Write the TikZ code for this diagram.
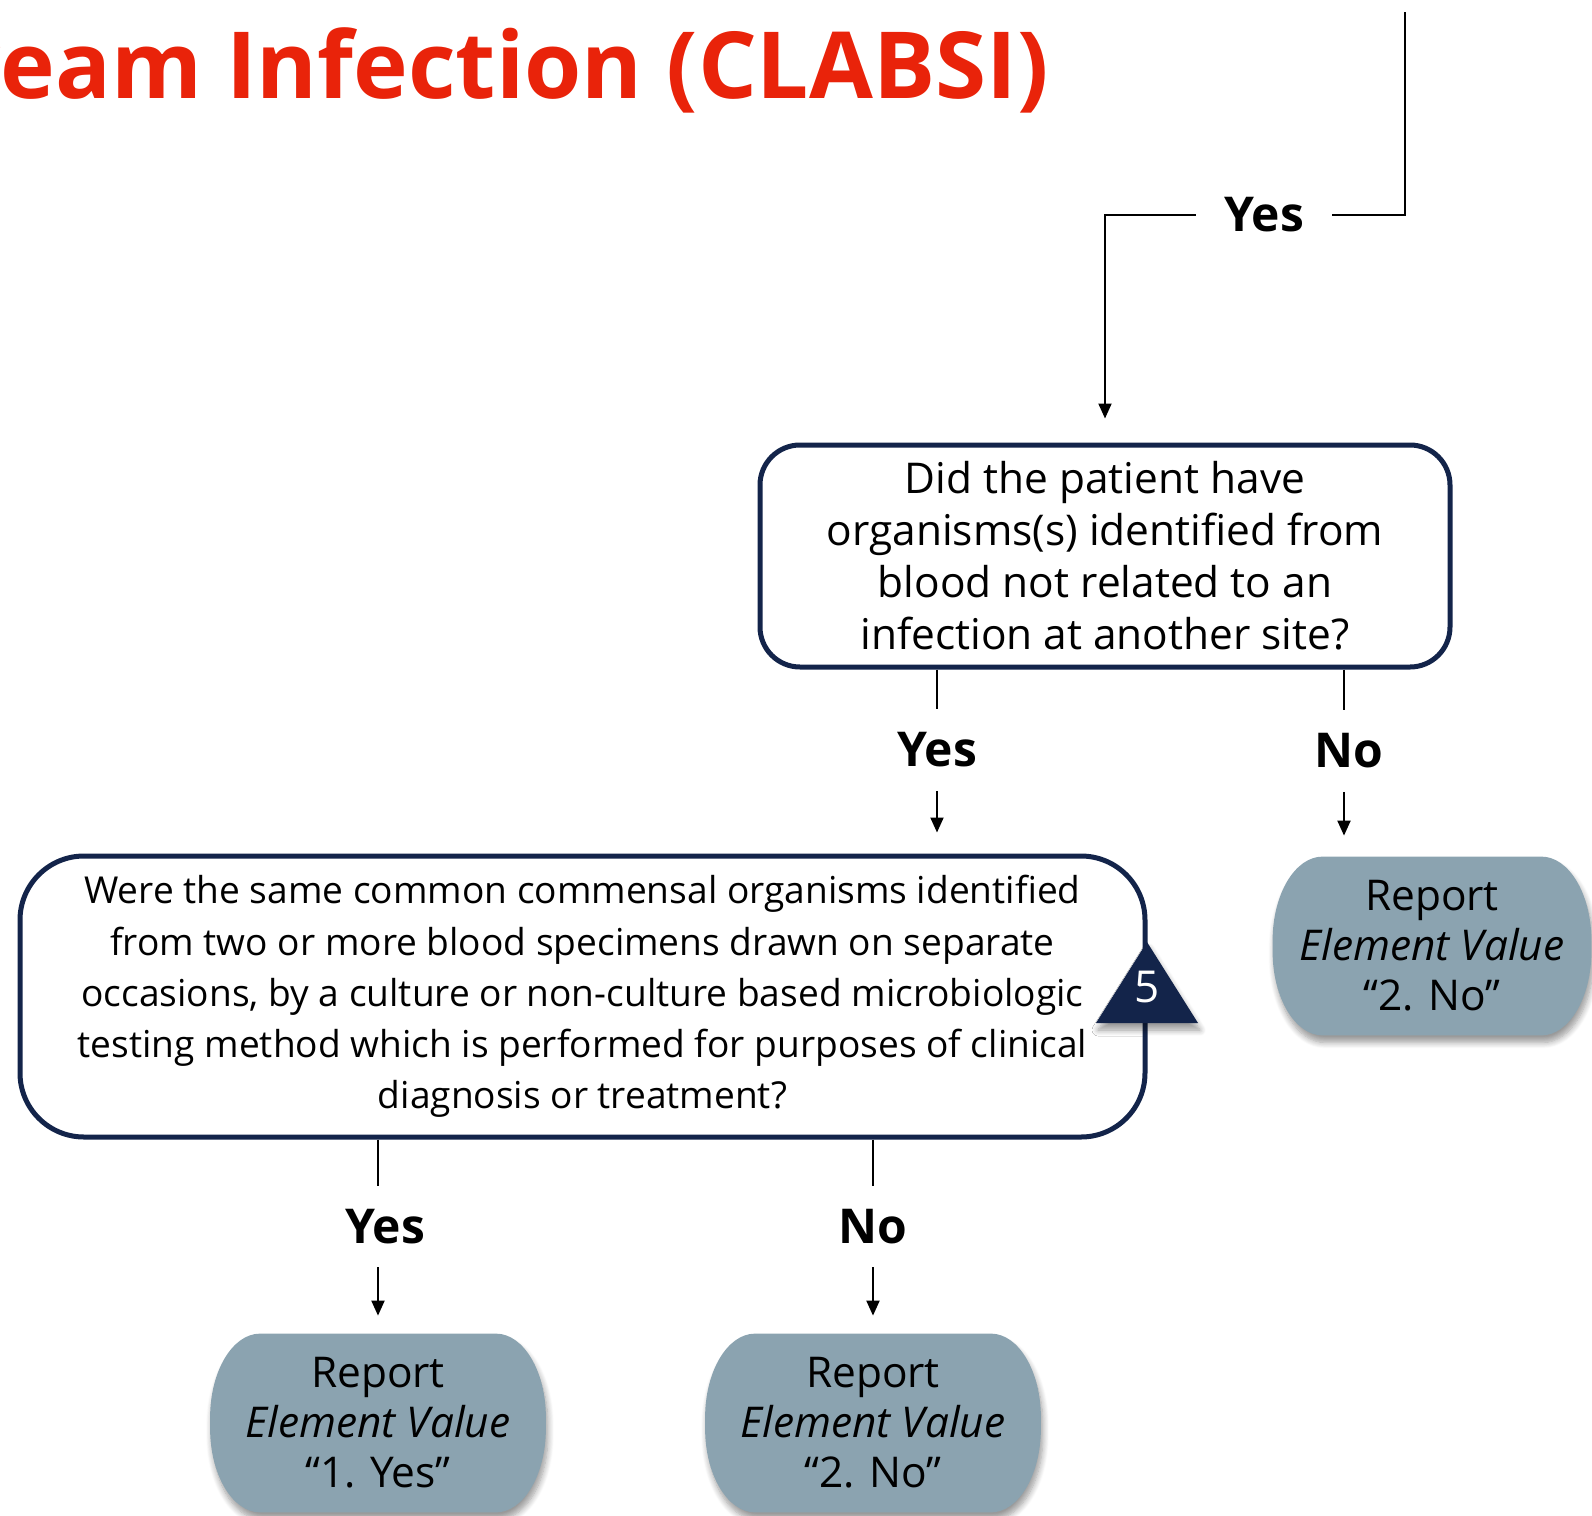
\documentclass[tikz,border=0pt]{standalone}
\usepackage{fontspec}
\setmainfont{Open Sans}
\usetikzlibrary{arrows.meta,shadows.blur}
\definecolor{navy}{RGB}{19,36,74}
\definecolor{slate}{RGB}{139,163,176}
\definecolor{titlered}{RGB}{233,35,10}
\pgfdeclarelayer{background}
\pgfsetlayers{background,main}

% filled terminal outline with elliptical corners behind node #1
\newcommand\terminalshape[1]{%
  \begin{pgfonlayer}{background}
    \fill[slate, softshadow]
      ([xshift=25pt]#1.north west) -- ([xshift=-25pt]#1.north east)
      arc[start angle=90, end angle=0, x radius=25pt, y radius=42pt]
      -- ([yshift=42pt]#1.south east)
      arc[start angle=0, end angle=-90, x radius=25pt, y radius=42pt]
      -- ([xshift=25pt]#1.south west)
      arc[start angle=270, end angle=180, x radius=25pt, y radius=42pt]
      -- ([yshift=-42pt]#1.north west)
      arc[start angle=180, end angle=90, x radius=25pt, y radius=42pt]
      -- cycle;
  \end{pgfonlayer}}

\begin{document}
\begin{tikzpicture}[x=0.5pt,y=-0.5pt,
  question/.style={draw=navy, line width=2.5pt, fill=white, align=center, inner sep=0pt},
  softshadow/.style={blur shadow={shadow xshift=1pt, shadow yshift=-3.5pt,
      shadow blur radius=3pt, shadow blur steps=8, shadow opacity=40}},
  report/.style={align=center, inner sep=0pt,
      minimum width=167.5pt, minimum height=89pt,
      font=\fontsize{21.2}{25}\selectfont},
  answer/.style={font=\fontsize{24}{28}\selectfont\bfseries, inner xsep=14pt,
      inner ysep=0pt, minimum height=40.5pt},
  nudge/.style={execute at begin node={\hspace*{#1}}},
  link/.style={line width=1pt, black},
  arrow/.style={link, -{Triangle[width=6.5pt,length=7.5pt]}},
]
\useasboundingbox (0,0) rectangle (1592,1516);

% heading
\node[anchor=base east, text=titlered, inner sep=0pt,
      font=\fontsize{46.3}{54}\selectfont\bfseries] (title) at (1049,98)
  {ream Infection (CLABSI)};

% decision boxes
\node[question, rounded corners=20pt, minimum width=345pt, minimum height=111pt,
      font=\fontsize{21.2}{26}\selectfont] (q1) at (1105,556)
  {Did the patient have\\organisms(s) identified from\\blood not related to an\\infection at another site?};

\node[question, rounded corners=32pt, minimum width=562.5pt, minimum height=140.5pt,
      font=\fontsize{18.55}{25.6}\selectfont] (q2) at (582.5,996.5)
  {Were the same common commensal organisms identified\\
   from two or more blood specimens drawn on separate\\
   occasions, by a culture or non-culture based microbiologic\\
   testing method which is performed for purposes of clinical\\
   diagnosis or treatment?};

% step marker on the right edge of the second question
\fill[navy, softshadow] (1147,942) -- (1198,1023) -- (1096,1023) -- cycle;
\node[text=white, inner sep=0pt, font=\fontsize{22}{26}\selectfont] (flag) at (1147,987) {5};

% outcomes
\node[report, minimum width=159pt] (r0) at (1432,946)
  {Report\\\textit{Element Value}\\“2. No”};
\node[report] (r1) at (378,1423)
  {Report\\\textit{Element Value}\\“1. Yes”};
\node[report] (r2) at (873,1423)
  {Report\\\textit{Element Value}\\“2. No”};
\terminalshape{r0}
\terminalshape{r1}
\terminalshape{r2}

% branch labels
\node[answer] (yesA) at (1264,215) {Yes};
\node[answer] (yesB) at (937,750) {Yes};
\node[answer, nudge=5pt] (noB) at (1344,751) {No};
\node[answer, nudge=7pt] (yesC) at (378,1226.5) {Yes};
\node[answer] (noC)  at (873,1226.5) {No};

% connectors
\coordinate (entry) at (1405,12);
\draw[link] (entry) |- (yesA.east);
\draw[arrow, shorten >=12pt] (yesA.west) -| (q1.north);

\draw[link] (q1.south -| yesB) -- (yesB.north);
\draw[arrow, shorten >=10.5pt] (yesB.south) -- (yesB.south |- q2.north);
\draw[link] (q1.south -| noB) -- (noB.north);
\draw[arrow, shorten >=10.5pt] (noB.south) -- (noB.south |- r0.north);

\draw[link] (q2.south -| yesC) -- (yesC.north);
\draw[arrow, shorten >=9pt] (yesC.south) -- (r1.north);
\draw[link] (q2.south -| noC) -- (noC.north);
\draw[arrow, shorten >=9pt] (noC.south) -- (r2.north);
\end{tikzpicture}
\end{document}
